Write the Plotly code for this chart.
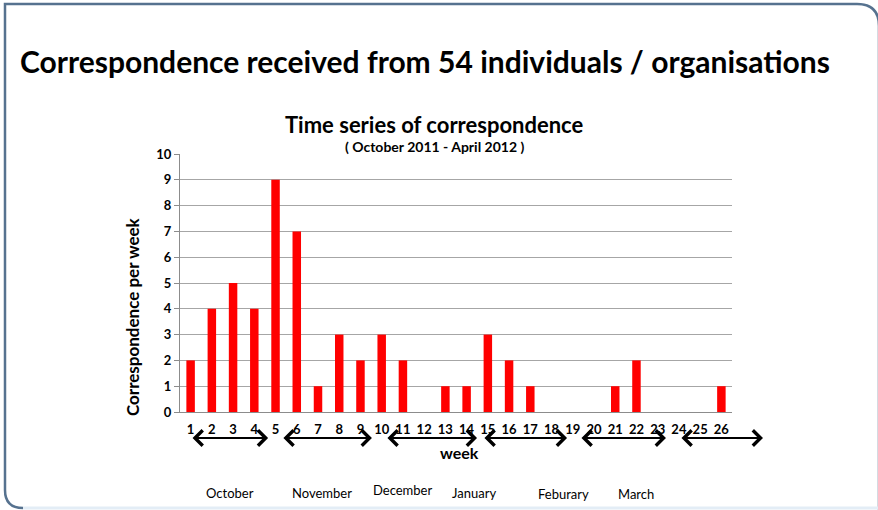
import plotly.graph_objects as go

weeks = list(range(1, 27))
counts = [2, 4, 5, 4, 9, 7, 1, 3, 2, 3, 2, 0, 1, 1, 3, 2, 1, 0, 0, 0, 1, 2, 0, 0, 0, 1]
month_names = ["October", "November", "December", "January", "Feburary", "March"]
# spans (in week units) of the month arrows, and label centres
arrow_spans = [(1.02, 4.65), (5.3, 9.54), (10.2, 14.49), (14.77, 18.73), (19.34, 23.39), (24.05, 27.96)]
month_pos = [2.86, 7.19, 11.0, 14.35, 18.54, 21.98]
month_y = [-0.314, -0.314, -0.302, -0.314, -0.316, -0.316]

W, H = 878, 510
L, R, T, B = 180, 146, 154, 98
PW, PH = W - L - R, H - T - B
NCAT = len(weeks)


def px(x, y):
    return (x - L) / PW, (H - B - y) / PH


def week_to_paper(w):
    return (w - 0.5) / NCAT


FONT = "Lato"

fig = go.Figure()
fig.add_trace(go.Bar(x=weeks, y=counts, width=0.4, marker=dict(color="#ff0000", line=dict(width=0))))

annotations = []
arrow_y = px(0, 438)[1]
for (a, b) in arrow_spans:
    annotations.append(dict(x=week_to_paper(b), y=arrow_y, xref="paper", yref="paper",
                            ax=-(b - a) * PW / NCAT, ay=0, axref="pixel", ayref="pixel",
                            text="", showarrow=True, arrowhead=4, startarrowhead=4, arrowside="end+start",
                            arrowsize=1.5, startarrowsize=1.5, arrowwidth=2, arrowcolor="#000000",
                            standoff=0, startstandoff=0))
for name, xp, yp in zip(month_names, month_pos, month_y):
    annotations.append(dict(x=week_to_paper(xp), y=yp, xref="paper", yref="paper", text=name, showarrow=False,
                            xanchor="center", yanchor="middle",
                            font=dict(family=FONT, size=13, color="#000000")))


def label(xp, yp, text, size, angle=0):
    cx, cy = px(xp, yp)
    annotations.append(dict(x=cx, y=cy, xref="paper", yref="paper", text=text, textangle=angle,
                            showarrow=False, xanchor="center", yanchor="middle",
                            font=dict(family=FONT, size=size, color="#000000")))


label(434, 124, "<b>Time series of correspondence</b>", 22)
label(434, 146, "<b>( October 2011 - April 2012 )</b>", 14)
label(132, 317, "<b>Correspondence per week</b>", 17, -90)
label(459, 452, "<b>week</b>", 16)


def path_px(cmds):
    out = []
    for c in cmds:
        if isinstance(c, str):
            out.append(c)
        else:
            x, y = px(*c)
            out.append(f"{x:.5f},{y:.5f}")
    return " ".join(out)


frame_dark = path_px(["M", (5, 490), "L", (5, 4), "L", (857, 4), "Q", (879, 4), (879, 26), "L", (879, 520)])
frame_corner = path_px(["M", (5, 490), "Q", (5, 508), (23, 508)])
frame_bottom = path_px(["M", (23, 508), "L", (880, 508)])

shapes = [
    dict(type="path", path=frame_dark, xref="paper", yref="paper", line=dict(color="#56728f", width=2.5)),
    dict(type="path", path=frame_corner, xref="paper", yref="paper", line=dict(color="#56728f", width=2.5)),
    dict(type="path", path=frame_bottom, xref="paper", yref="paper", line=dict(color="#e3edf6", width=3)),
]

fig.update_layout(
    width=W, height=H,
    margin=dict(l=L, r=R, t=T, b=B, pad=0),
    paper_bgcolor="#ffffff", plot_bgcolor="#ffffff",
    showlegend=False,
    title=dict(text="<b>Correspondence received from 54 individuals / organisations</b>",
               x=20 / W, xanchor="left", xref="container",
               y=1 - 62 / H, yanchor="middle", yref="container",
               font=dict(family=FONT, size=30, color="#000000")),
    annotations=annotations,
    shapes=shapes,
    bargap=0.6,
)
fig.update_xaxes(range=[0.5, 26.5], tickvals=weeks, ticktext=[f"<b>{w}</b>" for w in weeks],
                 showgrid=False, zeroline=False, showline=True, linecolor="#8c8c8c", linewidth=1,
                 ticks="outside", ticklen=5, tickcolor="rgba(0,0,0,0)",
                 tickfont=dict(family=FONT, size=13, color="#000000"), fixedrange=True)
fig.update_yaxes(range=[0, 10], dtick=1, tickvals=list(range(0, 11)),
                 ticktext=[f"<b>{v}</b>" for v in range(0, 11)],
                 showgrid=True, gridcolor="#a6a6a6", gridwidth=1, zeroline=False,
                 showline=True, linecolor="#8c8c8c", linewidth=1,
                 ticks="outside", ticklen=5, tickcolor="#8c8c8c",
                 tickfont=dict(family=FONT, size=13, color="#000000"), fixedrange=True)

fig.write_html("out.html", config={"displayModeBar": False},
               post_script="document.body.style.margin='0';document.body.style.overflow='hidden';")
